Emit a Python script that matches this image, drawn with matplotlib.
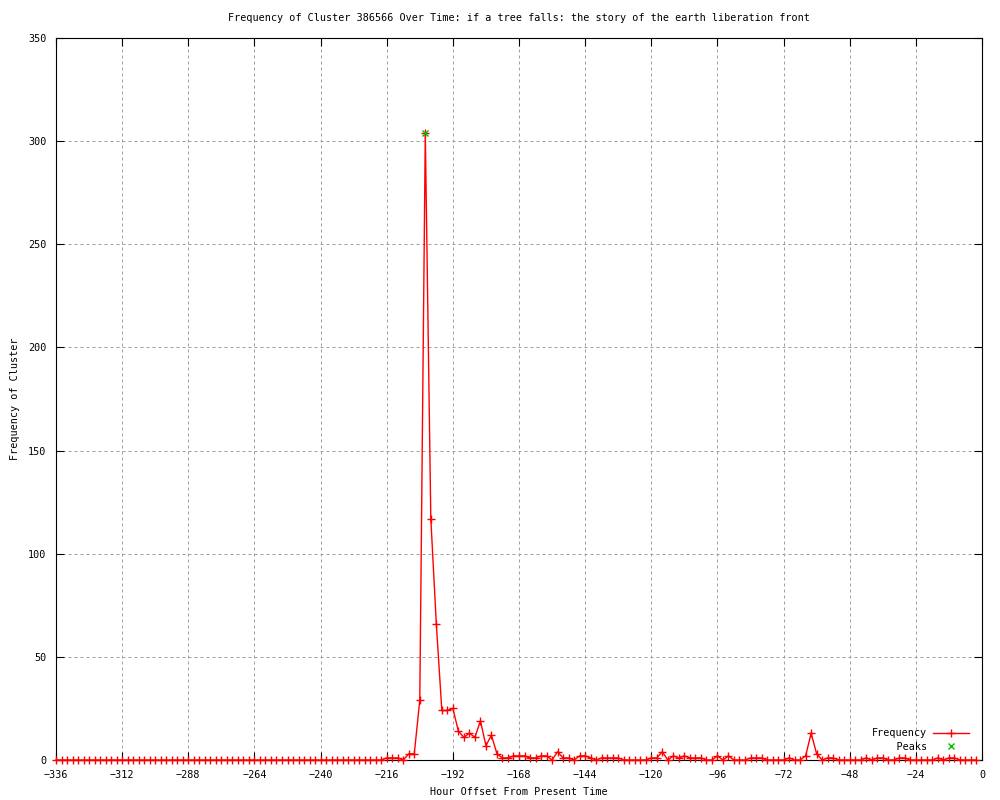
import matplotlib
matplotlib.use("Agg")
import matplotlib.pyplot as plt
import numpy as np

# ---- data ----
hours = list(range(-336, 0, 2))  # -336 .. -2, every 2 hours

freq_early = [0] * 58  # -336 .. -222
freq_late = [
    0, 0, 1, 1, 1, 0, 3, 3, 29, 304,          # -220 .. -202
    117, 66, 24, 24, 25, 14, 11, 13, 11, 19,  # -200 .. -182
    7, 12, 3, 1, 1, 2, 2, 2, 1, 1,            # -180 .. -162
    2, 2, 0, 4, 1, 1, 0, 2, 2, 1,             # -160 .. -142
    0, 1, 1, 1, 1, 0, 0, 0, 0, 0,             # -140 .. -122
    1, 1, 4, 0, 2, 1, 2, 1, 1, 1,             # -120 .. -102
    0, 0, 2, 0, 2, 0, 0, 0, 1, 1,             # -100 .. -82
    1, 0, 0, 0, 0, 1, 0, 0, 2, 13,            # -80 .. -62
    3, 0, 1, 1, 0, 0, 0, 0, 0, 1,             # -60 .. -42
    0, 1, 1, 0, 0, 1, 1, 0, 0, 0,             # -40 .. -22
    0, 0, 1, 0, 1, 1, 0, 0, 0, 0,             # -20 .. -2
]
frequency = freq_early + freq_late

peak_hours = [-202]
peak_values = [304]

xticks = list(range(-336, 1, 24))
yticks = list(range(0, 351, 50))

title = "Frequency of Cluster 386566 Over Time: if a tree falls: the story of the earth liberation front"
xlabel = "Hour Offset From Present Time"
ylabel = "Frequency of Cluster"

# ---- style ----
FS = 7.3
plt.rcParams['font.family'] = ['DejaVu Sans Mono']
plt.rcParams['font.size'] = FS

fig = plt.figure(figsize=(10, 8), dpi=100)
ax = fig.add_axes([0.056, 0.05, 0.926, 0.9025])

ax.plot(hours, frequency, color='#ff0000', lw=1.0, marker='+', ms=5.5, mew=1.0,
        clip_on=False, label='Frequency', zorder=3)
ax.plot(peak_hours, peak_values, linestyle='none', color='#00c000', marker='x',
        ms=5, mew=1.0, label=f"{'Peaks':>9}", zorder=4)

ax.set_xlim(-336, 0)
ax.set_ylim(0, 350)
ax.set_xticks(xticks)
ax.set_yticks(yticks)

ax.grid(True, color='#a0a0a0', linestyle=(0, (3, 3)), linewidth=0.72)
ax.set_axisbelow(True)

ax.tick_params(axis='both', direction='in', top=True, right=True,
               length=6, width=0.8, color='black', labelsize=FS, pad=7)
for s in ax.spines.values():
    s.set_linewidth(0.8)
    s.set_color('black')

ax.set_title(title, fontsize=FS, pad=12)
ax.set_xlabel(xlabel, fontsize=FS, labelpad=5)
ax.set_ylabel(ylabel, fontsize=FS, labelpad=6)

leg = ax.legend(loc='lower right', markerfirst=False, frameon=False,
                numpoints=1, handlelength=3.6, handletextpad=0.6,
                labelspacing=0.35, borderaxespad=0.4, fontsize=FS,
                bbox_to_anchor=(0.995, 0.0))

fig.savefig('out.png', dpi=100)
